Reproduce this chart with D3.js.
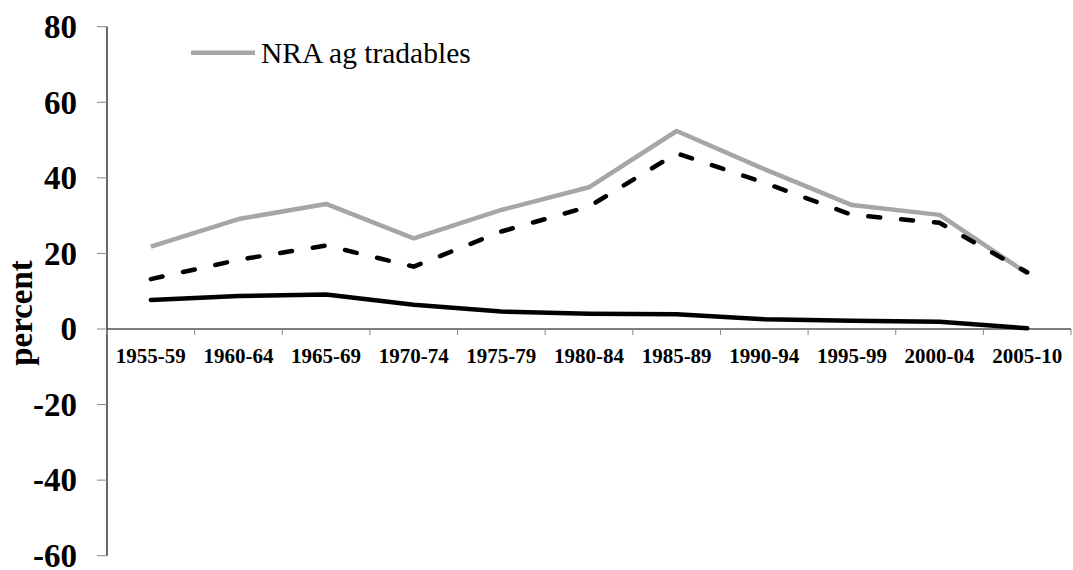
<!DOCTYPE html>
<html lang="en">
<head>
  <meta charset="UTF-8">
  <title>NRA chart</title>
  <script src="https://d3js.org/d3.v7.min.js"></script>
  <style>
    body { margin: 0; background: #fff; }
    svg { display: block; }
    svg text { font-family: "Liberation Serif", "DejaVu Serif", serif; }
    .ytick text { font-size: 33px; font-weight: bold; }
    .xtick text { font-size: 21px; font-weight: bold; }
  </style>
</head>
<body>
  <div id="chart"></div>
  <script>
    const periods = ['1955-59', '1960-64', '1965-69', '1970-74', '1975-79', '1980-84',
                     '1985-89', '1990-94', '1995-99', '2000-04', '2005-10'];
    const nraAgTradables = [21.8, 29.1, 33.1, 24.0, 31.5, 37.5, 52.4, 42.3, 32.8, 30.2, 14.7];
    const dashedSeries   = [13.2, 18.3, 22.1, 16.5, 25.8, 32.4, 46.5, 38.7, 30.2, 28.1, 15.0];
    const blackSeries    = [7.7, 8.7, 9.1, 6.4, 4.6, 4.0, 3.9, 2.6, 2.2, 1.9, 0.2];
    const yTicks = [-60, -40, -20, 0, 20, 40, 60, 80];

    const W = 1073, H = 570;
    const m = { left: 107, right: 1071, top: 26.7, bottom: 555.7 };

    const svg = d3.select('#chart').append('svg').attr('width', W).attr('height', H);

    const x = d3.scaleBand().domain(periods).range([m.left, m.right]).padding(0);
    const y = d3.scaleLinear().domain([-60, 80]).range([m.bottom, m.top]);

    // y axis
    svg.append('line').attr('x1', m.left).attr('x2', m.left).attr('y1', m.top).attr('y2', m.bottom)
      .attr('stroke', '#000').attr('stroke-width', 1.2);
    const yt = svg.selectAll('g.ytick').data(yTicks).join('g').attr('class', 'ytick')
      .attr('transform', d => `translate(0,${y(d)})`);
    yt.append('line').attr('x1', m.left - 10).attr('x2', m.left).attr('stroke', '#888').attr('stroke-width', 1);
    yt.append('text').attr('x', 77).attr('dy', '0.34em').attr('text-anchor', 'end').text(d => d);

    // x axis at zero
    svg.append('line').attr('x1', m.left).attr('x2', m.right).attr('y1', y(0)).attr('y2', y(0))
      .attr('stroke', '#000').attr('stroke-width', 1.2);
    const bounds = periods.map(p => x(p)).concat([m.right]);
    svg.selectAll('line.xt').data(bounds).join('line').attr('class', 'xt')
      .attr('x1', d => d).attr('x2', d => d).attr('y1', y(0)).attr('y2', y(0) + 6)
      .attr('stroke', '#888').attr('stroke-width', 1);
    svg.selectAll('g.xtick').data(periods).join('g').attr('class', 'xtick')
      .append('text')
      .attr('x', d => x(d) + x.bandwidth() / 2)
      .attr('y', y(0) + 34)
      .attr('text-anchor', 'middle')
      .text(d => d);

    // axis title
    svg.append('text')
      .attr('transform', `translate(32,313) rotate(-90)`)
      .attr('text-anchor', 'middle')
      .style('font-size', '33px').style('font-weight', 'bold')
      .text('percent');

    const line = d3.line()
      .x((d, i) => x(periods[i]) + x.bandwidth() / 2)
      .y(d => y(d));

    svg.append('path').datum(nraAgTradables).attr('d', line)
      .attr('fill', 'none').attr('stroke', '#a6a6a6').attr('stroke-width', 4.5)
      .attr('stroke-linejoin', 'round');
    svg.append('path').datum(dashedSeries).attr('d', line)
      .attr('fill', 'none').attr('stroke', '#000').attr('stroke-width', 4.5)
      .attr('stroke-dasharray', '12,21').attr('stroke-linecap', 'round');
    svg.append('path').datum(blackSeries).attr('d', line)
      .attr('fill', 'none').attr('stroke', '#000').attr('stroke-width', 4.5)
      .attr('stroke-linejoin', 'round').attr('stroke-linecap', 'round');

    // legend
    svg.append('line').attr('x1', 191).attr('x2', 255).attr('y1', 52.7).attr('y2', 52.7)
      .attr('stroke', '#a6a6a6').attr('stroke-width', 4.5);
    svg.append('text').attr('x', 261).attr('y', 63)
      .style('font-size', '29.5px').text('NRA ag tradables');
  </script>
</body>
</html>
